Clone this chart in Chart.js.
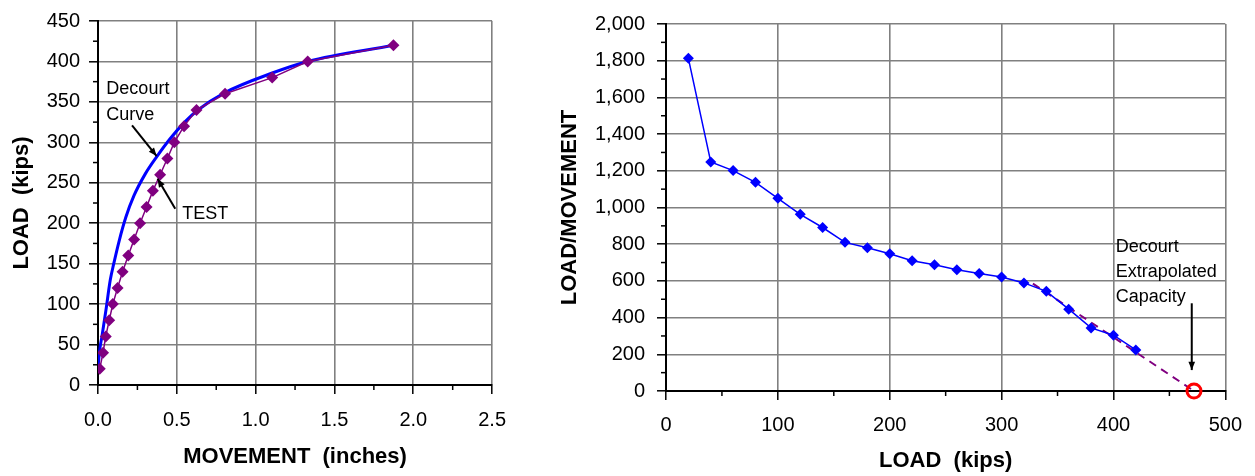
<!DOCTYPE html>
<html><head><meta charset="utf-8">
<script src="https://cdn.jsdelivr.net/npm/chart.js@4"></script>
<style>
html,body{margin:0;padding:0;background:#fff;}
#wrap{position:relative;width:1255px;height:476px;overflow:hidden;}
#c1{position:absolute;left:0;top:0;}
#c2{position:absolute;left:540px;top:0;}
</style></head><body>
<div id="wrap"><canvas id="c1" width="520" height="476"></canvas><canvas id="c2" width="715" height="476"></canvas></div>
<script>
// ---- data ----
const testLoad = [20,40,60,80,100,120,140,160,180,200,220,240,260,280,300,320,340,360,380,400,420];
const testMove = [0.011,0.032,0.049,0.071,0.094,0.124,0.156,0.192,0.229,0.267,0.308,0.348,0.394,0.44,0.484,0.546,0.625,0.806,1.105,1.33,1.874];
const decourtMove = [0.0,0.012,0.025,0.05,0.078,0.1,0.134,0.176,0.228,0.30,0.372,0.46,0.55,0.634,0.8,1.11,1.33,1.874];
const decourtLoad = [22,45,60,92,130,150,178,207,234,261,282,305,325,340,361,386,400,420];
const ratioLoad = testLoad;
const ratioValue = [1813,1248,1201,1137,1050,963,891,810,781,748,710,688,661,640,621,589,543,446,344,304,224];
const extrapLoad = [328,472];
const extrapRatio = [585,0];
const capacityLoad = [472];
const capacityRatio = [0];
const leftXTicks = [0,0.5,1,1.5,2,2.5];
const leftYTicks = [0,50,100,150,200,250,300,350,400,450];
const rightXTicks = [0,100,200,300,400,500];
const rightYTicks = [0,200,400,600,800,1000,1200,1400,1600,1800,2000];

const FF = '"Liberation Sans", Arial, sans-serif';
const pts = (xs, ys) => xs.map((x,i)=>({x:x, y:ys[i]}));

const decor = {
  id:'decor',
  afterDraw(chart, args, o){
    const ctx = chart.ctx, xs = chart.scales.x, ys = chart.scales.y;
    ctx.save();
    ctx.strokeStyle = '#000'; ctx.lineWidth = 1.5;
    const b = chart.chartArea.bottom, l = chart.chartArea.left;
    for (let i=0;i<o.xTicks.length-1;i++){
      const px = xs.getPixelForValue((o.xTicks[i]+o.xTicks[i+1])/2);
      ctx.beginPath(); ctx.moveTo(px,b); ctx.lineTo(px,b+5); ctx.stroke();
    }
    for (let i=0;i<o.yTicks.length-1;i++){
      const py = ys.getPixelForValue((o.yTicks[i]+o.yTicks[i+1])/2);
      ctx.beginPath(); ctx.moveTo(l,py); ctx.lineTo(l-5,py); ctx.stroke();
    }
    ctx.fillStyle = '#000';
    ctx.font = '18px ' + FF;
    ctx.textAlign = 'left'; ctx.textBaseline = 'middle';
    (o.texts||[]).forEach(t=>{
      ctx.fillText(t.text, xs.getPixelForValue(t.x), ys.getPixelForValue(t.y));
    });
    (o.arrows||[]).forEach(a=>{
      const x1=xs.getPixelForValue(a.x1), y1=ys.getPixelForValue(a.y1);
      const x2=xs.getPixelForValue(a.x2), y2=ys.getPixelForValue(a.y2);
      ctx.strokeStyle='#000'; ctx.lineWidth=2;
      ctx.beginPath(); ctx.moveTo(x1,y1); ctx.lineTo(x2,y2); ctx.stroke();
      const ang = Math.atan2(y2-y1, x2-x1), hl=9, hw=0.38;
      ctx.beginPath();
      ctx.moveTo(x2,y2);
      ctx.lineTo(x2-hl*Math.cos(ang-hw), y2-hl*Math.sin(ang-hw));
      ctx.lineTo(x2-hl*Math.cos(ang+hw), y2-hl*Math.sin(ang+hw));
      ctx.closePath(); ctx.fillStyle='#000'; ctx.fill();
    });
    ctx.restore();
  }
};

function axis(opts){
  return {
    type:'linear', min:opts.min, max:opts.max,
    afterBuildTicks: s => { s.ticks = opts.ticks.map(v=>({value:v})); },
    ticks:{ color:'#000', font:{family:FF, size:20}, padding:opts.pad, callback:opts.cb, maxRotation:0, autoSkip:false },
    grid:{ color:'#808080', lineWidth:1.6, tickColor:'#000', tickLength:9, tickWidth:1.5, drawTicks:true },
    border:{ color:'#000', width:2 },
    title:{ display:true, text:opts.title, color:'#000', font:{family:FF, size:22, weight:'bold'}, padding:opts.tpad },
    afterFit: opts.fit
  };
}

new Chart(document.getElementById('c1'), {
  type:'scatter',
  data:{ datasets:[
    { label:'TEST', data:pts(testMove,testLoad), showLine:true, borderColor:'#800080', borderWidth:1.5,
      backgroundColor:'#800080', pointStyle:'rectRot', pointRadius:6, pointBorderWidth:0 },
    { label:'Decourt Curve', data:pts(decourtMove,decourtLoad), showLine:true, borderColor:'#0000FF', borderWidth:3,
      pointRadius:0, cubicInterpolationMode:'monotone' }
  ]},
  options:{
    responsive:false, animation:false,
    layout:{ padding:{ top:19, right:22, left:0, bottom:0 } },
    plugins:{ legend:{display:false}, tooltip:{enabled:false},
      decor:{ xTicks:leftXTicks, yTicks:leftYTicks,
        texts:[ {text:'Decourt', x:0.053, y:366}, {text:'Curve', x:0.053, y:334}, {text:'TEST', x:0.534, y:211} ],
        arrows:[ {x1:0.216, y1:321, x2:0.372, y2:283}, {x1:0.49, y1:218, x2:0.378, y2:255} ] } },
    scales:{
      x: axis({min:0, max:2.5, ticks:leftXTicks, pad:14, cb:v=>Number(v).toFixed(1), title:'MOVEMENT  (inches)',
        tpad:{top:0,bottom:6}, fit:s=>{s.height=91;}}),
      y: axis({min:0, max:450, ticks:leftYTicks, pad:9, cb:v=>String(v), title:'LOAD  (kips)',
        tpad:{top:9,bottom:0}, fit:s=>{s.width=98;}})
    }
  },
  plugins:[decor]
});

new Chart(document.getElementById('c2'), {
  type:'scatter',
  data:{ datasets:[
    { label:'Capacity', data:pts(capacityLoad,capacityRatio), showLine:false, pointStyle:'circle', pointRadius:7,
      borderColor:'#FF0000', pointBorderWidth:3, backgroundColor:'rgba(255,255,255,0)', clip:false },
    { label:'Load/Movement', data:pts(ratioLoad,ratioValue), showLine:true, borderColor:'#0000FF', borderWidth:1.5,
      backgroundColor:'#0000FF', pointStyle:'rectRot', pointRadius:5.5, pointBorderWidth:0 },
    { label:'Extrapolation', data:pts(extrapLoad,extrapRatio), showLine:true, borderColor:'#800080', borderWidth:2,
      borderDash:[8,6], pointRadius:0 }
  ]},
  options:{
    responsive:false, animation:false,
    layout:{ padding:{ top:23, right:27, left:0, bottom:0 } },
    plugins:{ legend:{display:false}, tooltip:{enabled:false},
      decor:{ xTicks:rightXTicks, yTicks:rightYTicks,
        texts:[ {text:'Decourt', x:402, y:783}, {text:'Extrapolated', x:402, y:647}, {text:'Capacity', x:402, y:511} ],
        arrows:[ {x1:470, y1:478, x2:470, y2:114} ] } },
    scales:{
      x: axis({min:0, max:500, ticks:rightXTicks, pad:13, cb:v=>String(v), title:'LOAD  (kips)',
        tpad:{top:0,bottom:2}, fit:s=>{s.height=85;}}),
      y: axis({min:0, max:2000, ticks:rightYTicks, pad:12, cb:v=>Number(v).toLocaleString('en-US'), title:'LOAD/MOVEMENT',
        tpad:{top:17,bottom:0}, fit:s=>{s.width=126;}})
    }
  },
  plugins:[decor]
});
</script>
</body></html>
